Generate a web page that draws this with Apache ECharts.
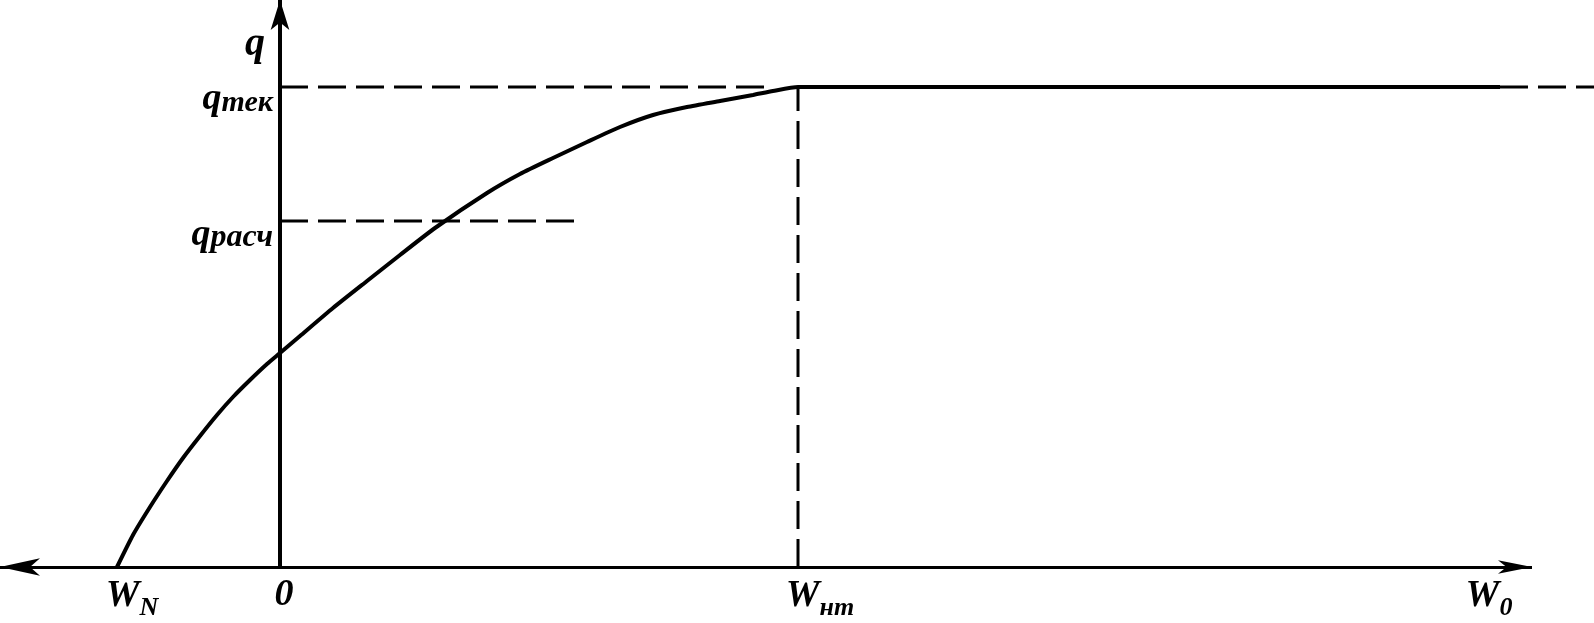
<!DOCTYPE html>
<html>
<head>
<meta charset="utf-8">
<script src="https://cdn.jsdelivr.net/npm/echarts@6/dist/echarts.min.js"></script>
<style>
html,body{margin:0;padding:0;background:#fff;}
#chart{width:1594px;height:623px;}
</style>
</head>
<body>
<div id="chart"></div>
<script>
// Key values (arbitrary units)
const W_N = -1.63;      // W_N, where the curve starts on the W axis
const W_NT = 5.18;      // W_нт, where q reaches q_тек
const W_END = 12.20;    // end of the solid plateau
const W_DASH_END = 13.14;
const Q_TEK = 4.80;
const Q_RASCH = 3.46;
const W_RASCH_END = 3.00;
const AXIS_X_MIN = -2.80;
const AXIS_X_ARROW = 12.52;
const AXIS_Y_MAX = 5.67;

// Curve q(W)
const curveW = [-1.63, -1.47, -1.30, -1.13, -0.97, -0.80, -0.63, -0.47, -0.30, -0.13, 0.00, 0.20, 0.53, 0.87, 1.20, 1.55, 2.07, 2.40, 2.73, 3.07, 3.40, 3.73, 4.07, 4.40, 4.73, 4.93, 5.18, 12.20];
const curveQ = [0.00, 0.32, 0.60, 0.86, 1.09, 1.31, 1.52, 1.70, 1.87, 2.03, 2.14, 2.31, 2.59, 2.86, 3.12, 3.39, 3.74, 3.93, 4.09, 4.25, 4.40, 4.52, 4.60, 4.66, 4.72, 4.76, 4.80, 4.80];

// Tick labels
const xLabels = ['{m|W}{s|N}', '{z|0}', '{m|W}{s|нт}', '{m|W}{s|0}'];
const xLabelAt = [-1.48, 0.04, 5.40, 12.09];
const yLabels = ['{m|q}{r|расч}', '{m|q}{t|тек}', '{n|q}'];
const yLabelAt = [3.33, 4.69, 5.22];

const FONT = '"Liberation Serif", "DejaVu Serif", serif';
const pair = (xs, ys) => xs.map((x, i) => [x, ys[i]]);
const findIdx = (arr, v) => arr.findIndex(a => Math.abs(a - v) < 1e-6);

const chart = echarts.init(document.getElementById('chart'), null, {renderer: 'canvas'});
const dashed = {color: '#000', width: 3, type: [28, 10]};
// y axis sits on W = 0: distance from the grid's left edge in pixels
const Y_AXIS_OFFSET = -Math.round(-AXIS_X_MIN / (W_DASH_END - AXIS_X_MIN) * 1594);
const txt = (size, extra) => Object.assign({fontFamily: FONT, fontStyle: 'italic', fontWeight: 'bold', fontSize: size, color: '#000'}, extra || {});

chart.setOption({
  animation: false,
  backgroundColor: '#fff',
  grid: {left: 0, right: 0, top: 0, bottom: 56, containLabel: false, outerBoundsMode: 'none'},
  xAxis: {
    type: 'value', min: AXIS_X_MIN, max: W_DASH_END,
    axisLine: {show: false, onZero: true},
    axisTick: {show: false}, splitLine: {show: false},
    axisLabel: {
      show: true, customValues: xLabelAt, margin: 8, hideOverlap: false,
      formatter: v => xLabels[findIdx(xLabelAt, v)] || '',
      rich: {
        m: txt(38, {verticalAlign: 'bottom', lineHeight: 40}),
        s: txt(26, {verticalAlign: 'bottom', lineHeight: 26, padding: [0, 0, -6, 0]}),
        z: txt(38, {lineHeight: 40})
      }
    }
  },
  yAxis: {
    type: 'value', min: 0, max: AXIS_Y_MAX, position: 'left', offset: Y_AXIS_OFFSET,
    axisLine: {show: true, onZero: false, symbol: ['none', 'arrow'], symbolSize: [14, 30],
      lineStyle: {color: '#000', width: 4}},
    axisTick: {show: false}, splitLine: {show: false},
    axisLabel: {
      show: true, customValues: yLabelAt, margin: 7, hideOverlap: false,
      formatter: v => yLabels[findIdx(yLabelAt, v)] || '',
      rich: {
        m: txt(38, {verticalAlign: 'bottom', lineHeight: 40}),
        t: txt(30, {verticalAlign: 'bottom', lineHeight: 34}),
        r: txt(32, {verticalAlign: 'bottom', lineHeight: 35}),
        n: txt(40, {padding: [0, 8, 0, 0]})
      }
    }
  },
  series: [
    {
      type: 'line', data: pair(curveW, curveQ), smooth: 0.2,
      showSymbol: false, lineStyle: {color: '#000', width: 4}, z: 5,
      markLine: {
        silent: true, animation: false,
        label: {show: false},
        lineStyle: {color: '#000', width: 3, type: 'solid'},
        symbol: ['arrow', 'arrow'],
        data: [
          [{coord: [AXIS_X_MIN, 0], symbol: 'arrow', symbolSize: [13, 40]}, {coord: [AXIS_X_ARROW, 0], symbol: 'arrow', symbolSize: [10, 34]}]
        ]
      }
    },
    {type: 'line', data: [[0, Q_TEK], [W_NT - 0.3, Q_TEK]], showSymbol: false, lineStyle: dashed},
    {type: 'line', data: [[0, Q_RASCH], [W_RASCH_END, Q_RASCH]], showSymbol: false, lineStyle: dashed},
    {type: 'line', data: [[W_NT, 0], [W_NT, Q_TEK]], showSymbol: false, lineStyle: dashed},
    {type: 'line', data: [[W_END, Q_TEK], [W_DASH_END, Q_TEK]], showSymbol: false, lineStyle: dashed}
  ]
});
</script>
</body>
</html>
